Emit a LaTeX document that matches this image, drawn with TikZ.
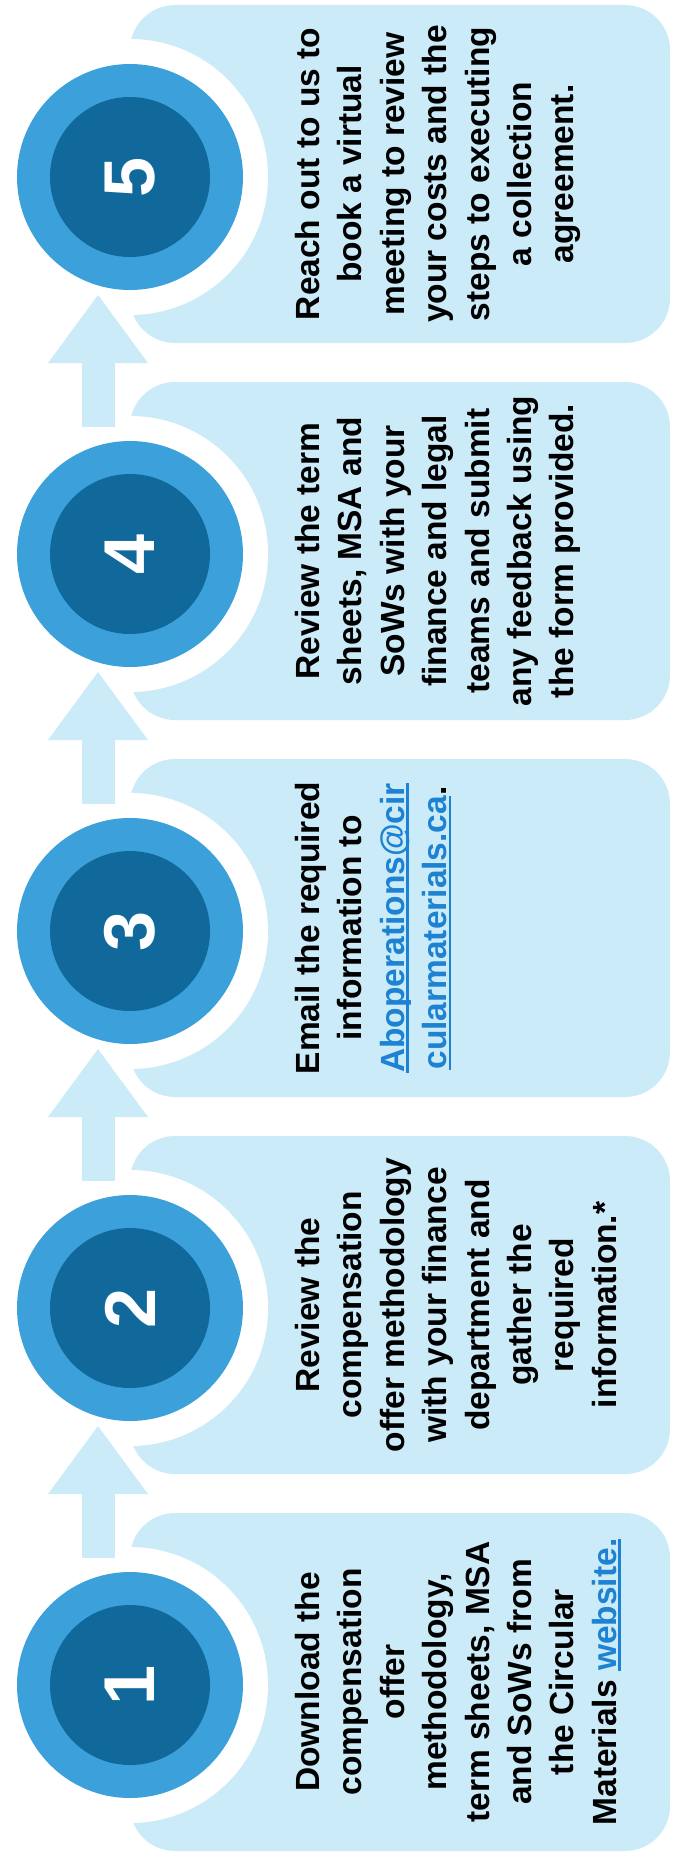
\documentclass[tikz,border=0pt]{standalone}
\usepackage{fontspec}
\setmainfont{Liberation Sans}
\usetikzlibrary{arrows.meta}
\definecolor{cmlight}{RGB}{204,235,248}
\definecolor{cmmid}{RGB}{60,160,219}
\definecolor{cmdark}{RGB}{16,104,155}
\definecolor{cmlink}{RGB}{30,130,210}
\newcommand\weblink[1]{\textcolor{cmlink}{\setbox0\hbox{#1}\rlap{\rule[-4.5pt]{\wd0}{2.4pt}}\box0}}

\begin{document}
\begin{tikzpicture}[x=1pt, y=-1pt,
    card/.style={fill=cmlight, rounded corners=45pt, minimum width=540pt, minimum height=338pt, inner sep=0pt},
    gap/.style={circle, fill=white, minimum size=276pt, inner sep=0pt},
    outerdisc/.style={circle, fill=cmmid, minimum size=226pt, inner sep=0pt},
    innerdisc/.style={circle, fill=cmdark, minimum size=160pt, inner sep=0pt, rotate=90,
        text=white, font=\fontsize{72}{72}\selectfont\bfseries},
    steptext/.style={rotate=90, anchor=north, align=center, inner sep=0pt,
        font=\fontsize{33.5}{42.4}\selectfont\bfseries},
    uparrow/.style={cmlight, line width=33pt, shorten <=127pt, shorten >=118pt,
        -{Triangle[length=68pt, width=100pt, line width=0pt]}}
]
\useasboundingbox (0,0) rectangle (672,1860);

% Tarjetas de fondo
\foreach \i/\yc in {1/1682,2/1305,3/928,4/551,5/174} {
    \node[card] (b\i) at (400,\yc) {};
}

% Anillos blancos alrededor de los circulos
\foreach \i/\yc in {1/1685,2/1308,3/931,4/554,5/177} {
    \node[gap] (r\i) at (130,\yc) {};
}

% Flechas entre pasos
\foreach \i/\j in {1/2,2/3,3/4,4/5} {
    \draw[uparrow] ([xshift=-32pt]r\i.center) -- ([xshift=-32pt]r\j.center);
}

% Circulos numerados
\foreach \i in {1,...,5} {
    \node[outerdisc] (c\i) at (r\i) {};
    \node[innerdisc] (n\i) at (c\i) {\i};
}

% Textos
\node[steptext] (t1) at (295,1682) {Download the\\compensation\\offer\\methodology,\\term sheets, MSA\\and SoWs from\\the Circular\\Materials \weblink{website.}};
\node[steptext] (t2) at (295,1305) {Review the\\compensation\\offer methodology\\with your finance\\department and\\gather the\\required\\information.*};
\node[steptext] (t3) at (295,928) {Email the required\\information to\\\weblink{Aboperations@cir}\\\weblink{cularmaterials.ca}.};
\node[steptext] (t4) at (295,551) {Review the term\\sheets, MSA and\\SoWs with your\\finance and legal\\teams and submit\\any feedback using\\the form provided.};
\node[steptext] (t5) at (295,174) {Reach out to us to\\book a virtual\\meeting to review\\your costs and the\\steps to executing\\a collection\\agreement.};

\end{tikzpicture}
\end{document}
